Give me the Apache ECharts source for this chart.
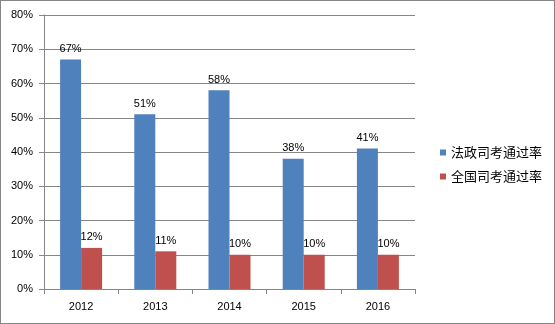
<!DOCTYPE html>
<html>
<head>
<meta charset="utf-8">
<script src="https://cdn.jsdelivr.net/npm/echarts@6/dist/echarts.min.js"></script>
<style>
  html, body { margin: 0; padding: 0; background: #fff; }
  #chart { width: 553px; height: 322px; border: 1px solid #868686; }
</style>
</head>
<body>
<div id="chart"></div>
<script>
// Pass rates by year
const years = ['2012', '2013', '2014', '2015', '2016'];
const schoolRate = [67, 51, 58, 38, 41];   // 法政司考通过率
const nationalRate = [12, 11, 10, 10, 10]; // 全国司考通过率
const yTicks = { min: 0, max: 80, interval: 10 };

const FONT = '"Liberation Sans", Arial, "Noto Sans CJK SC", sans-serif';
const chart = echarts.init(document.getElementById('chart'));

const labelStyle = {
  show: true,
  position: 'top',
  distance: 5,
  color: '#000',
  fontSize: 11,
  fontFamily: FONT,
  formatter: p => p.value + '%'
};

chart.setOption({
  animation: false,
  textStyle: { fontFamily: FONT },
  grid: { left: 43, right: 139, top: 14, bottom: 34, containLabel: false },
  legend: {
    orient: 'vertical',
    left: 434,
    top: 140,
    itemWidth: 6,
    itemHeight: 6,
    itemGap: 11,
    icon: 'rect',
    textStyle: { color: '#000', fontSize: 13, fontFamily: '"Noto Sans CJK SC", sans-serif' },
    data: ['法政司考通过率', '全国司考通过率']
  },
  xAxis: {
    type: 'category',
    data: years,
    axisLine: { show: true, lineStyle: { color: '#868686' } },
    axisTick: { show: true, length: 5, lineStyle: { color: '#868686' } },
    axisLabel: { color: '#000', fontSize: 11, margin: 12, fontFamily: FONT }
  },
  yAxis: {
    type: 'value',
    min: yTicks.min,
    max: yTicks.max,
    interval: yTicks.interval,
    axisLine: { show: true, lineStyle: { color: '#868686' } },
    axisTick: { show: true, length: 5, lineStyle: { color: '#868686' } },
    axisLabel: { color: '#000', fontSize: 11, margin: 11, fontFamily: FONT, formatter: v => v + '%' },
    splitLine: { show: true, lineStyle: { color: '#868686' } }
  },
  series: [
    {
      name: '法政司考通过率',
      type: 'bar',
      data: schoolRate,
      barWidth: 21,
      barGap: '0%',
      itemStyle: { color: '#4f81bd' },
      label: labelStyle
    },
    {
      name: '全国司考通过率',
      type: 'bar',
      data: nationalRate,
      barWidth: 21,
      itemStyle: { color: '#c0504d' },
      label: labelStyle
    }
  ]
});
</script>
</body>
</html>
